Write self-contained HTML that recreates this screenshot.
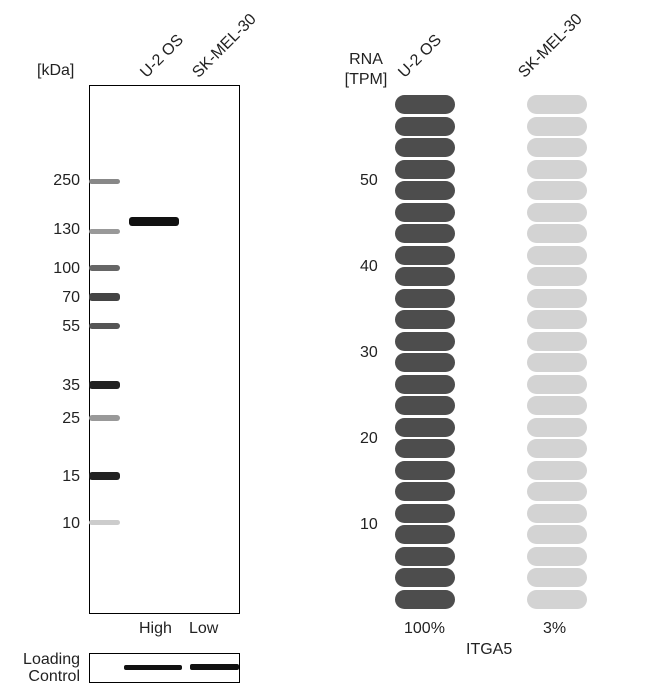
<!DOCTYPE html>
<html><head><style>
body{margin:0;background:#fff;width:651px;height:687px;position:relative;font-family:"Liberation Sans",sans-serif;color:#222;overflow:hidden}
.t{position:absolute;font-size:16px;white-space:nowrap}
.n{position:absolute;font-size:16px;white-space:nowrap;right:571px;text-align:right}
.r{position:absolute;font-size:16px;white-space:nowrap;transform:rotate(-45deg);transform-origin:left bottom}
.m{position:absolute;left:89px;width:31px;border-radius:3px}
.p{position:absolute;width:60px;height:19px;border-radius:9.5px}
</style></head><body>
<div class="t" style="left:37px;top:62px">[kDa]</div>
<div class="r" style="left:150px;top:64px">U-2 OS</div>
<div class="r" style="left:202px;top:64px">SK-MEL-30</div>
<div style="position:absolute;left:89px;top:85px;width:149px;height:527px;border:1px solid #000"></div>
<div class="n" style="top:172px">250</div>
<div class="n" style="top:221px">130</div>
<div class="n" style="top:260px">100</div>
<div class="n" style="top:289px">70</div>
<div class="n" style="top:318px">55</div>
<div class="n" style="top:377px">35</div>
<div class="n" style="top:410px">25</div>
<div class="n" style="top:468px">15</div>
<div class="n" style="top:515px">10</div>
<div class="m" style="top:179px;height:5px;background:#888"></div>
<div class="m" style="top:229px;height:5px;background:#999"></div>
<div class="m" style="top:265px;height:6px;background:#666"></div>
<div class="m" style="top:293px;height:8px;background:#444"></div>
<div class="m" style="top:323px;height:6px;background:#555"></div>
<div class="m" style="top:381px;height:8px;background:#222"></div>
<div class="m" style="top:415px;height:6px;background:#999"></div>
<div class="m" style="top:472px;height:8px;background:#222"></div>
<div class="m" style="top:520px;height:5px;background:#ccc"></div>
<div style="position:absolute;left:129px;top:217px;width:50px;height:9px;background:#111;border-radius:3px"></div>
<div class="t" style="left:139px;top:620px">High</div>
<div class="t" style="left:189px;top:620px">Low</div>
<div class="t" style="left:16px;top:651px;line-height:17px;text-align:right;width:64px">Loading<br>Control</div>
<div style="position:absolute;left:89px;top:653px;width:149px;height:28px;border:1px solid #000"></div>
<div style="position:absolute;left:124px;top:665px;width:58px;height:5px;background:#111;border-radius:2px"></div>
<div style="position:absolute;left:190px;top:664px;width:49px;height:6px;background:#111;border-radius:2px"></div>
<div class="t" style="left:340px;top:50px;line-height:20px;text-align:center;width:52px">RNA<br>[TPM]</div>
<div class="r" style="left:408px;top:64px">U-2 OS</div>
<div class="r" style="left:528px;top:64px">SK-MEL-30</div>
<div class="t" style="left:360px;top:172px">50</div>
<div class="t" style="left:360px;top:258px">40</div>
<div class="t" style="left:360px;top:344px">30</div>
<div class="t" style="left:360px;top:430px">20</div>
<div class="t" style="left:360px;top:516px">10</div>
<div id="pills"></div>
<div class="t" style="left:404px;top:620px">100%</div>
<div class="t" style="left:543px;top:620px">3%</div>
<div class="t" style="left:466px;top:641px">ITGA5</div>
<script>
var h='';for(var i=0;i<24;i++){var y=95+i*21.5;
h+='<div class="p" style="left:395px;top:'+y+'px;background:#4d4d4d"></div>';
h+='<div class="p" style="left:527px;top:'+y+'px;background:#d3d3d3"></div>';}
document.getElementById('pills').innerHTML=h;
</script>
</body></html>
